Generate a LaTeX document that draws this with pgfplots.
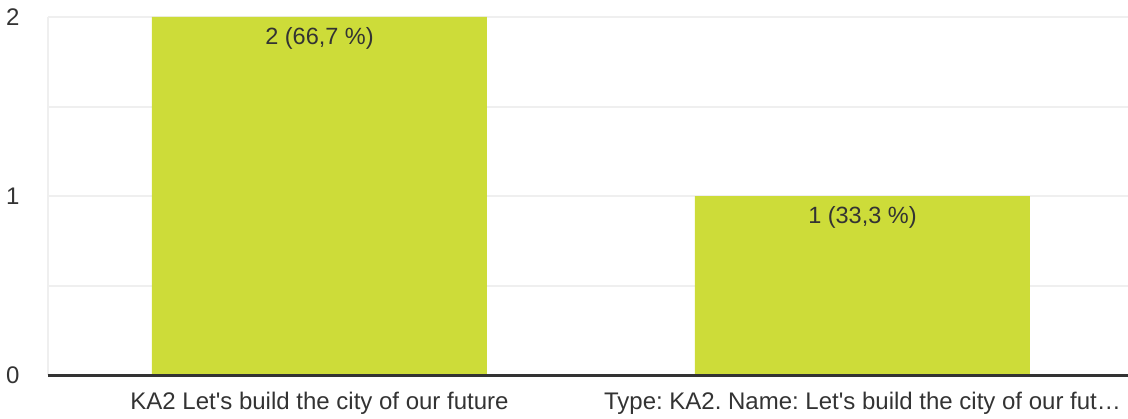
\documentclass[border=0pt]{standalone}
\usepackage{pgfplots}
\pgfplotsset{compat=1.18}
\usepackage{fontspec}
\setmainfont{Liberation Sans}
\frenchspacing
\definecolor{barc}{HTML}{CDDC39}
\definecolor{txt}{HTML}{333333}
\definecolor{gridc}{HTML}{EFEFEF}
\begin{document}
\begin{tikzpicture}[x=1pt,y=1pt]
\useasboundingbox (-48,-43) rectangle (1080,375);
\begin{axis}[
  at={(0,0)}, anchor=south west,
  scale only axis, width=1080pt, height=358pt,
  xmin=-0.5, xmax=1.489, ymin=0, ymax=2,
  xtick={0,1},
  xticklabels={KA2 Let\textquotesingle s build the city of our future, Type: KA2. Name: Let\textquotesingle s build the city of our fut…},
  ytick={0,1,2}, minor ytick={0.5,1.5},
  ymajorgrids, yminorgrids,
  major grid style={draw=gridc, line width=2pt},
  minor grid style={draw=gridc, line width=2pt},
  axis x line*=bottom, axis y line*=left,
  x axis line style={draw=txt, line width=3pt, -},
  y axis line style={draw=gridc, line width=2pt, -},
  major tick length=0pt, minor tick length=0pt,
  tick style={draw=none},
  /pgf/number format/assume math mode=true,
  font=\fontsize{24}{28}\selectfont,
  ticklabel style={text=txt, font=\fontsize{24}{28}\selectfont},
  yticklabel style={anchor=east, xshift=-25pt},
  xticklabel style={anchor=north, yshift=-14pt},
  clip=false,
]
\addplot[ybar, bar width=335pt, fill=barc, draw=none,
  nodes near coords, point meta=explicit symbolic,
  every node near coord/.append style={anchor=north, yshift=-7pt, text=txt, font=\fontsize{23.5}{28}\selectfont}]
  table[meta=label, col sep=comma] {
x,y,label
0,2,2 (66{,}7 \%)
1,1,1 (33{,}3 \%)
};
\draw[txt, line width=3pt] (rel axis cs:0,0) -- (rel axis cs:1,0);
\end{axis}
\end{tikzpicture}
\end{document}
